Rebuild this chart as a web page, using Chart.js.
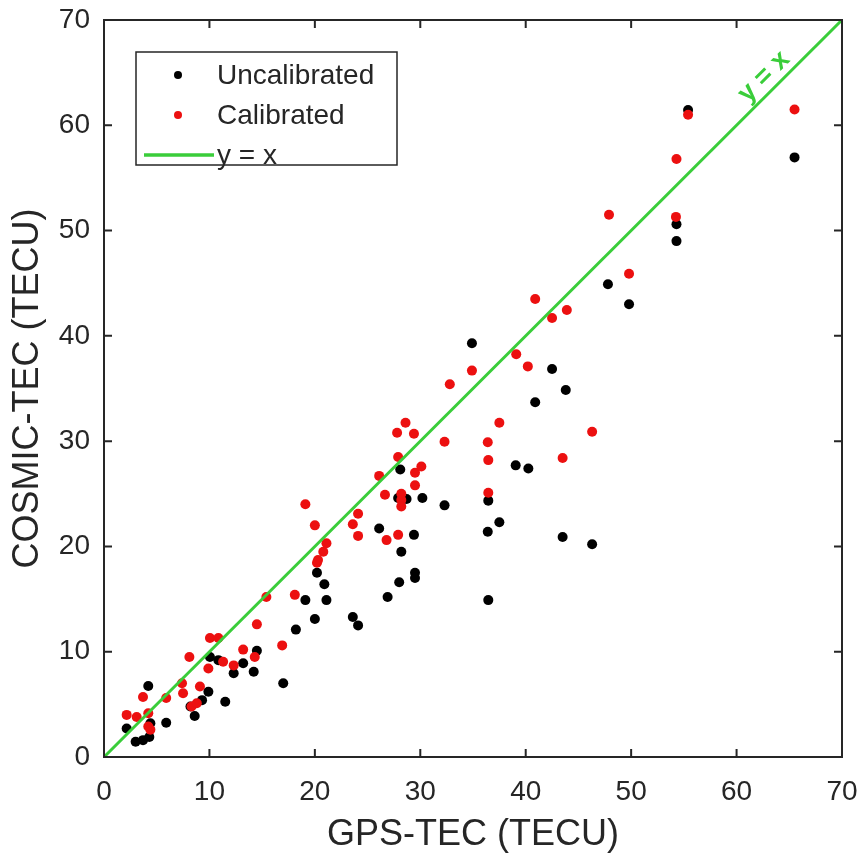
<!DOCTYPE html>
<html>
<head>
<meta charset="utf-8">
<script src="https://cdn.jsdelivr.net/npm/chart.js@4.4.1/dist/chart.umd.min.js"></script>
<style>
  html, body { margin: 0; padding: 0; background: #fff; }
  canvas { display: block; }
</style>
</head>
<body>
<canvas id="scatter" width="865" height="859"></canvas>
<script>
// GPS-TEC (x) vs COSMIC-TEC (y)
const uncalX = [2.15, 3.0, 3.7, 4.3, 4.4, 4.2, 5.9, 8.6, 8.2, 9.3, 9.9, 11.5, 10.05, 10.85, 12.3, 13.2, 14.2, 14.5, 17.0,
    18.2, 19.1, 20.0, 20.2, 20.9, 21.1, 23.6, 24.1, 26.1, 26.9, 28.0, 28.2, 29.5, 29.5, 29.4, 27.9, 28.7, 30.2, 28.1,
    32.3, 34.9, 36.45, 36.4, 37.5, 36.45, 39.05, 40.25, 40.9, 42.5, 43.8, 43.5, 46.3, 47.8, 49.8, 54.3, 54.3, 55.4, 65.5];
const uncalY = [2.7, 1.45, 1.6, 1.9, 3.2, 6.75, 3.25, 3.9, 4.8, 5.4, 6.2, 5.25, 9.5, 9.2, 7.95, 8.9, 8.1, 10.1, 7.0,
    12.1, 14.9, 13.1, 17.5, 16.4, 14.9, 13.3, 12.5, 21.7, 15.2, 16.6, 19.5, 17.5, 17.0, 21.1, 24.6, 24.5, 24.6, 27.3,
    23.9, 39.3, 24.35, 21.4, 22.3, 14.9, 27.7, 27.4, 33.7, 36.85, 34.85, 20.9, 20.2, 44.9, 43.0, 49.0, 50.6, 61.45, 56.95];

const calX = [2.15, 3.1, 4.2, 4.2, 4.4, 3.7, 5.9, 7.4, 7.5, 8.3, 8.8, 9.1, 8.1, 9.9, 10.05, 10.85, 11.3, 12.3, 13.2,
    14.3, 14.5, 15.4, 16.9, 18.1, 19.1, 20.0, 20.2, 20.3, 20.8, 21.1, 23.6, 24.1, 24.1, 26.1, 26.65, 26.8, 27.9, 27.9,
    27.8, 28.6, 29.4, 28.2, 28.2, 28.2, 29.5, 30.1, 29.5, 32.3, 32.8, 34.9, 36.4, 36.45, 36.45, 37.5, 39.1, 40.2, 40.9,
    42.5, 43.9, 43.5, 46.3, 47.9, 49.8, 54.25, 54.3, 55.4, 65.5];
const calY = [4.0, 3.8, 4.15, 2.9, 2.6, 5.7, 5.6, 7.0, 6.05, 4.8, 5.1, 6.7, 9.5, 8.4, 11.3, 11.3, 9.05, 8.7, 10.2,
    9.5, 12.6, 15.2, 10.6, 15.4, 24.0, 22.0, 18.45, 18.7, 19.5, 20.3, 22.1, 23.1, 21.0, 26.7, 24.9, 20.6, 21.1, 28.5,
    30.8, 31.75, 30.7, 25.0, 24.4, 23.8, 27.0, 27.6, 25.8, 29.95, 35.4, 36.7, 29.9, 28.2, 25.1, 31.75, 38.25, 37.1, 43.5,
    41.7, 42.45, 28.4, 30.9, 51.5, 45.9, 51.3, 56.8, 61.0, 61.5];

const refX = [0, 70];
const refY = [0, 70];
const axisTicks = [0, 10, 20, 30, 40, 50, 60, 70];

const seriesNames = ['Uncalibrated', 'Calibrated', 'y = x'];
const red = 'rgb(236, 16, 16)';
const green = 'rgb(58, 205, 58)';
const ink = '#262626';
const family = '"Liberation Sans", Arial, Helvetica, sans-serif';

const toPoints = (xs, ys) => xs.map((x, i) => ({ x: x, y: ys[i] }));

// MATLAB-like box with inward ticks, legend and the "y = x" label
const boxPlugin = {
    id: 'boxPlugin',
    afterDraw(chart) {
        const { ctx, chartArea: a, scales } = chart;
        const xs = scales.x, ys = scales.y;
        ctx.save();

        // y = x label along the line
        ctx.save();
        ctx.translate(xs.getPixelForValue(62.6), ys.getPixelForValue(64.6));
        ctx.rotate(-Math.PI / 4);
        ctx.fillStyle = green;
        ctx.font = 'bold 27px ' + family;
        ctx.textAlign = 'center';
        ctx.textBaseline = 'middle';
        ctx.fillText('y = x', 0, 0);
        ctx.restore();

        // frame
        ctx.strokeStyle = ink;
        ctx.lineWidth = 2;
        ctx.strokeRect(a.left, a.top, a.right - a.left, a.bottom - a.top);

        // inward ticks on all four sides
        const tl = 8;
        ctx.beginPath();
        axisTicks.forEach(v => {
            const px = xs.getPixelForValue(v);
            ctx.moveTo(px, a.bottom); ctx.lineTo(px, a.bottom - tl);
            ctx.moveTo(px, a.top); ctx.lineTo(px, a.top + tl);
            const py = ys.getPixelForValue(v);
            ctx.moveTo(a.left, py); ctx.lineTo(a.left + tl, py);
            ctx.moveTo(a.right, py); ctx.lineTo(a.right - tl, py);
        });
        ctx.stroke();

        // legend box
        const lx = a.left + 32, ly = a.top + 32, lw = 261, lh = 113;
        ctx.fillStyle = '#fff';
        ctx.fillRect(lx, ly, lw, lh);
        ctx.lineWidth = 1.5;
        ctx.strokeStyle = ink;
        ctx.strokeRect(lx, ly, lw, lh);

        ctx.font = '28px ' + family;
        ctx.textBaseline = 'middle';
        ctx.textAlign = 'left';
        const rows = [ly + 23, ly + 63, ly + 103];
        const tx = lx + 81;

        ctx.fillStyle = '#000';
        ctx.beginPath(); ctx.arc(lx + 42, rows[0], 4, 0, Math.PI * 2); ctx.fill();
        ctx.fillStyle = red;
        ctx.beginPath(); ctx.arc(lx + 42, rows[1], 4, 0, Math.PI * 2); ctx.fill();
        ctx.strokeStyle = green;
        ctx.lineWidth = 3.5;
        ctx.beginPath(); ctx.moveTo(lx + 8, rows[2]); ctx.lineTo(lx + 78, rows[2]); ctx.stroke();

        ctx.fillStyle = ink;
        seriesNames.forEach((name, i) => ctx.fillText(name, tx, rows[i] + 1));
        ctx.restore();
    }
};

const chart = new Chart(document.getElementById('scatter').getContext('2d'), {
    type: 'scatter',
    data: {
        datasets: [{
            label: seriesNames[2],
            type: 'line',
            data: toPoints(refX, refY),
            borderColor: green,
            borderWidth: 3,
            pointRadius: 0,
            fill: false,
            order: 1
        }, {
            label: seriesNames[1],
            data: toPoints(calX, calY),
            backgroundColor: red,
            borderWidth: 0,
            pointRadius: 5,
            order: 2
        }, {
            label: seriesNames[0],
            data: toPoints(uncalX, uncalY),
            backgroundColor: '#000',
            borderWidth: 0,
            pointRadius: 5,
            order: 3
        }]
    },
    options: {
        responsive: false,
        animation: false,
        events: [],
        layout: { padding: { left: 0, right: 23, top: 20, bottom: 0 } },
        plugins: {
            legend: { display: false },
            tooltip: { enabled: false }
        },
        scales: {
            x: {
                type: 'linear',
                min: 0,
                max: 70,
                afterFit: s => { s.height = 102; s.paddingLeft = 0; s.paddingRight = 0; },
                grid: { display: false, drawTicks: false },
                border: { display: false },
                ticks: {
                    stepSize: 10,
                    padding: 18,
                    color: ink,
                    font: { family: family, size: 28 }
                },
                title: {
                    display: true,
                    text: 'GPS-TEC (TECU)',
                    color: ink,
                    padding: { top: 0, bottom: 2 },
                    font: { family: family, size: 36 }
                }
            },
            y: {
                type: 'linear',
                min: 0,
                max: 70,
                afterFit: s => { s.width = 104; s.paddingTop = 0; s.paddingBottom = 0; },
                grid: { display: false, drawTicks: false },
                border: { display: false },
                ticks: {
                    stepSize: 10,
                    padding: 14,
                    color: ink,
                    font: { family: family, size: 28 }
                },
                title: {
                    display: true,
                    text: 'COSMIC-TEC (TECU)',
                    color: ink,
                    padding: { top: 10, bottom: 0 },
                    font: { family: family, size: 36, lineHeight: 1 }
                }
            }
        }
    },
    plugins: [boxPlugin]
});
</script>
</body>
</html>
